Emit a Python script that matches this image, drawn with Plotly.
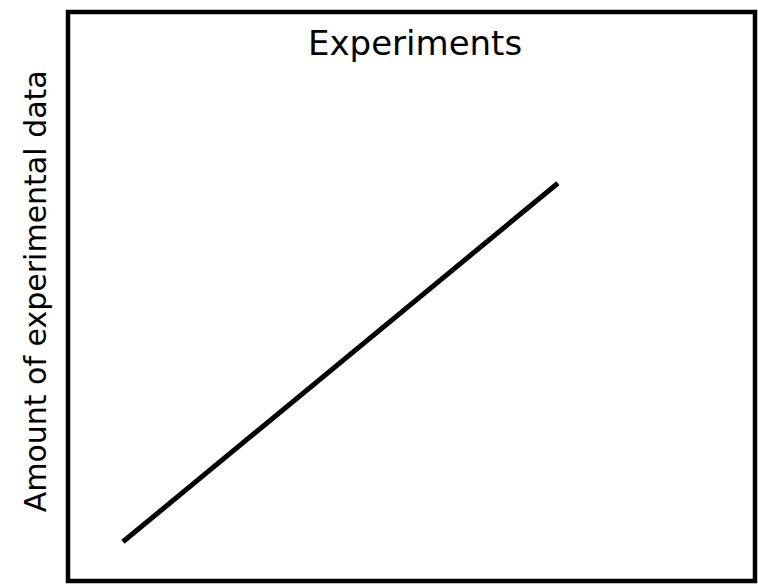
import plotly.graph_objects as go

# Growth of experimental data over time (schematic trend line)
trend_x = [0.80, 7.13]
trend_y = [0.69, 6.99]

title_text = "Experiments"
y_label = "Amount of experimental data"

fig = go.Figure()
fig.add_trace(go.Scatter(
    x=trend_x, y=trend_y, mode="lines",
    line=dict(color="black", width=5),
    hoverinfo="skip", showlegend=False,
))

axis_style = dict(range=[0, 10], showgrid=False, zeroline=False,
                  showticklabels=False, ticks="", showline=False,
                  fixedrange=True)
fig.update_xaxes(**axis_style)
fig.update_yaxes(**axis_style)

# Heavy frame around the plotting area
fig.add_shape(type="rect", xref="paper", yref="paper", x0=0, y0=0, x1=1, y1=1,
              line=dict(color="black", width=4.5), fillcolor="rgba(0,0,0,0)")

fig.add_annotation(text=title_text, xref="paper", yref="paper",
                   x=0.505, y=0.946, xanchor="center", yanchor="middle",
                   showarrow=False,
                   font=dict(family="DejaVu Sans", size=34, color="black"))

fig.add_annotation(text=y_label, xref="paper", yref="paper",
                   x=-0.047, y=0.5086, xanchor="center", yanchor="middle",
                   textangle=-90, showarrow=False,
                   font=dict(family="DejaVu Sans", size=30, color="black"))

fig.update_layout(
    width=758, height=584,
    margin=dict(l=67.5, r=3, t=11.5, b=2.7),
    paper_bgcolor="white", plot_bgcolor="white",
)

fig.write_html("out.html")
